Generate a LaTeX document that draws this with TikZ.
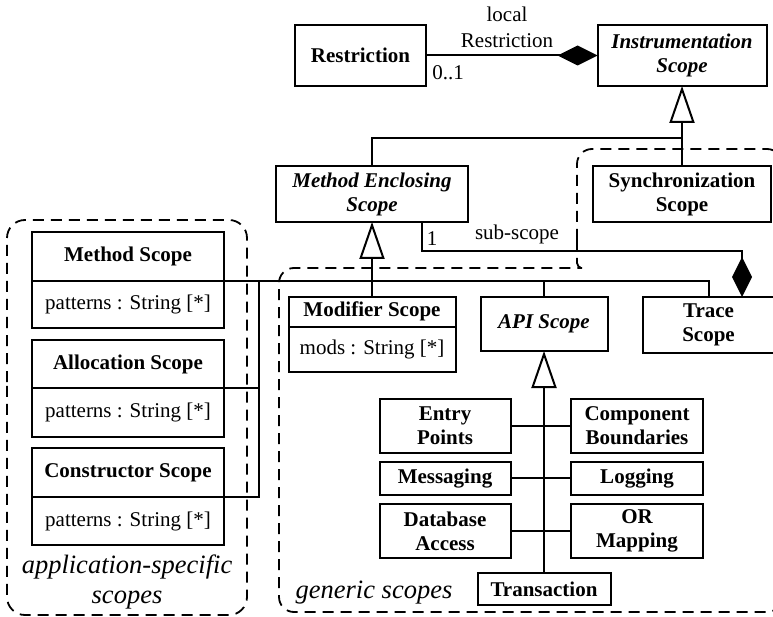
\documentclass[tikz,border=0pt]{standalone}
\usepackage{fontspec}
\setmainfont{Liberation Serif}
\usetikzlibrary{arrows.meta}
\begin{document}
\begin{tikzpicture}[x=1pt,y=-1pt,
  every node/.style={font=\fontsize{21}{24}\selectfont},
  cls/.style={draw, line width=2pt, fill=white, inner sep=0pt, outer sep=0pt, align=center,
    font=\fontsize{21}{24}\selectfont\bfseries},
  acls/.style={cls, font=\fontsize{21}{24}\selectfont\bfseries\itshape},
  attr/.style={draw, line width=2pt, fill=white, inner sep=0pt, outer sep=0pt, align=center,
    font=\fontsize{21}{24}\selectfont},
  conn/.style={line width=2pt},
  gen/.style={conn, -{Triangle[open, length=37pt, width=25pt]}},
  comp/.style={conn, -{Diamond[length=40pt, width=20pt]}},
  region/.style={line width=1.8pt, dash pattern=on 11pt off 7pt},
  regionlabel/.style={font=\fontsize{26.5}{30}\selectfont\itshape, align=center}
]
\useasboundingbox (0,0) rectangle (773,617);

% package regions
\draw[region, rounded corners=18pt] (7,400) -- (7,220) -- (247,220) -- (247,615) -- (7,615) -- cycle;
\draw[region, rounded corners=15pt] (577,240) -- (577,149) -- (782,149) -- (782,612)
  -- (279,612) -- (279,268) -- (582,268);
\draw[region, rounded corners=5pt] (577,240) -- (577,268) -- (582,268);

% classes
\node[cls,  minimum width=131pt, minimum height=61pt] (restr) at (360.5,55.5) {Restriction};
\node[acls, minimum width=169pt, minimum height=61pt] (instr) at (682,55.5) {Instrumentation\\Scope};
\node[acls, minimum width=192pt, minimum height=56pt] (mes) at (372,194) {Method Enclosing\\Scope};
\node[cls,  minimum width=178pt, minimum height=56pt] (sync) at (682,194) {Synchronization\\Scope};
\node[cls,  minimum width=131pt, minimum height=56pt] (trace) at (708.5,325) {Trace\\Scope};

\node[cls,  minimum width=167pt, minimum height=30pt] (mod) at (372,311.75) {Modifier Scope};
\node[attr, minimum width=167pt, minimum height=45pt, anchor=north] (modattr) at (mod.south) {mods : String [*]};
\node[acls, minimum width=127pt, minimum height=54pt] (api) at (544,324) {API Scope};

\node[cls, minimum width=131pt, minimum height=54pt] (entry) at (445,426) {Entry\\Points};
\node[cls, minimum width=132pt, minimum height=54pt] (compb) at (637,426) {Component\\Boundaries};
\node[cls, minimum width=131pt, minimum height=32.5pt] (msg) at (445,478.25) {Messaging};
\node[cls, minimum width=132pt, minimum height=32.5pt] (logg) at (637,478.25) {Logging};
\node[cls, minimum width=131pt, minimum height=54pt] (db) at (445,531) {Database\\Access};
\node[cls, minimum width=132pt, minimum height=54pt] (orm) at (637,531) {OR\\Mapping};
\node[cls, minimum width=133pt, minimum height=32pt] (trans) at (544,589) {Transaction};

\node[cls,  minimum width=192pt, minimum height=49pt] (meth) at (128,256.5) {Method Scope};
\node[attr, minimum width=192pt, minimum height=47pt, anchor=north] (methattr) at (meth.south) {patterns : String [*]};
\node[cls,  minimum width=192pt, minimum height=48pt] (alloc) at (128,364) {Allocation Scope};
\node[attr, minimum width=192pt, minimum height=49pt, anchor=north] (allocattr) at (alloc.south) {patterns : String [*]};
\node[cls,  minimum width=192pt, minimum height=49pt] (cons) at (128,472.5) {Constructor Scope};
\node[attr, minimum width=192pt, minimum height=48pt, anchor=north] (consattr) at (cons.south) {patterns : String [*]};

% junction points
\coordinate (j1) at (682,138);
\coordinate (vb) at (259,281);

% associations and generalizations
\draw[comp] (restr.east) -- (instr.west);
\draw[gen] (sync.north) -- (instr.south);
\draw[conn] (mes.north) |- (j1);
\draw[comp] ([xshift=50pt]mes.south) -- ++(0,29) -| ([xshift=33.5pt]trace.north);
\draw[gen] (mod.north) -- (mes.south);
\draw[conn] (meth.south east) -| (trace.north);
\draw[conn] (api.north) -- (api.north |- meth.south east);
\draw[conn] (cons.south east) -| (vb);
\draw[conn] (alloc.south east) -- (alloc.south east -| vb);
\draw[gen] (trans.north) -- (api.south);
\draw[conn] (entry.east) -- (compb.west);
\draw[conn] (msg.east) -- (logg.west);
\draw[conn] (db.east) -- (orm.west);

% role names and multiplicities
\node[align=center, font=\fontsize{21}{26}\selectfont] (lblrole) at (507,27) {local\\Restriction};
\node (lblmult) at (448,73) {0..1};
\node (lblone) at (432,239) {1};
\node (lblsub) at (517,234) {sub-scope};

% region labels
\node[regionlabel] (applbl) at (127,582) {application-specific\\scopes};
\node[regionlabel] (genlbl) at (374,593) {generic scopes};
\end{tikzpicture}
\end{document}
